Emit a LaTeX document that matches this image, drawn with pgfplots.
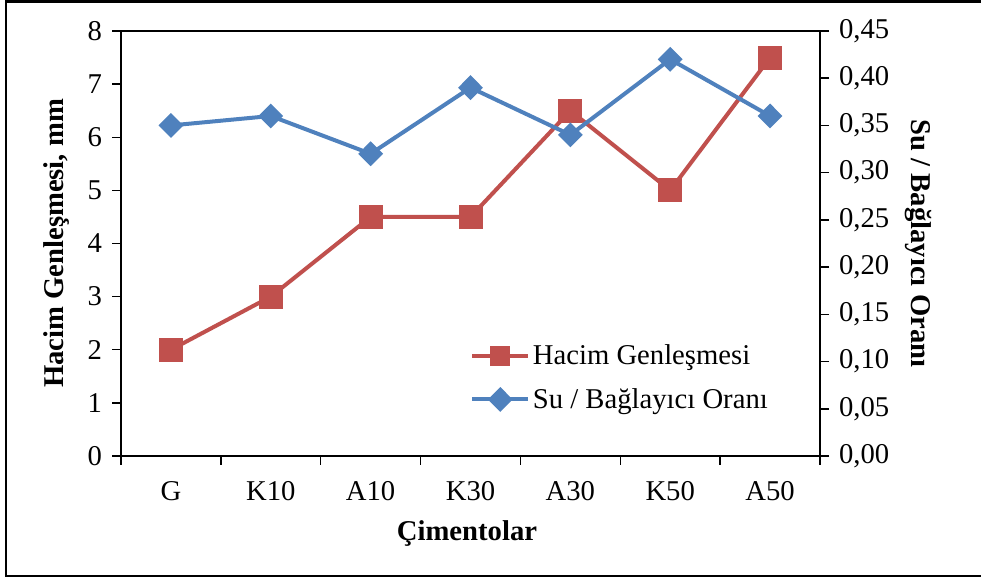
\documentclass[border=0pt]{standalone}
\usepackage{fontspec}
\setmainfont{Liberation Serif}
\usepackage{pgfplots}
\pgfplotsset{compat=1.18}
\definecolor{exred}{RGB}{192,80,77}
\definecolor{exblue}{RGB}{79,129,189}
\pgfplotsset{
  common/.style={
    at={(90.75pt,93.75pt)}, anchor=south west,
    width=524.25pt, height=318.75pt, scale only axis,
    xmin=-0.5, xmax=6.5,
    /pgf/number format/assume math mode=true,
    tick label style={font=\fontsize{21.5}{25}\selectfont},
    axis line style={line width=1.6pt,-},
    tick style={line width=1.1pt, black},
    tick align=outside, major tick length=6.75pt,
  }
}
\begin{document}
\begin{tikzpicture}
\useasboundingbox (0,0) rectangle (735.75pt,435.75pt);
\draw[line width=1.9pt] (736.5pt,434.6pt) -- (4.5pt,434.6pt) -- (4.5pt,3.75pt) -- (736.5pt,3.75pt);
\begin{axis}[common,
  ymin=0, ymax=8,
  axis x line*=bottom, axis y line*=left,
  xtick={-0.5,0.5,...,6.5},
  x tick label as interval,
  xticklabels={G,K10,A10,K30,A30,K50,A50},
  xticklabel style={yshift=-9pt},
  ytick={0,1,...,8},
  yticklabel style={xshift=-4pt},
  every axis y label/.style={at={(axis description cs:-0.0916,0.5)}, anchor=center, rotate=90, font=\bfseries\fontsize{21.5}{25}\selectfont},
  every axis x label/.style={at={(axis description cs:0.495,-0.182)}, anchor=center, font=\bfseries\fontsize{21.5}{25}\selectfont},
  ylabel={Hacim Genleşmesi, mm},
  xlabel={Çimentolar},
]
\draw[line width=0.8pt] (rel axis cs:0,1) -- (rel axis cs:1,1);
\addplot[exred, line width=3pt, mark=square*, mark size=7.5pt, mark options={solid}]
  coordinates {(0,2) (1,3) (2,4.5) (3,4.5) (4,6.5) (5,5) (6,7.5)};
\end{axis}
\begin{axis}[common,
  ymin=0, ymax=0.45,
  axis y line*=right, axis x line=none,
  ytick={0,0.05,0.1,0.15,0.2,0.25,0.3,0.35,0.4,0.45},
  yticklabel style={xshift=4pt, /pgf/number format/.cd, fixed, fixed zerofill, precision=2, use comma},
  every axis y label/.style={at={(axis description cs:1.141,0.5)}, anchor=center, rotate=-90, font=\bfseries\fontsize{21.5}{25}\selectfont},
  ylabel={Su / Bağlayıcı Oranı},
  legend style={at={(axis description cs:0.4993,0.1847)}, anchor=west, draw=none, fill=none,
    inner sep=0pt, row sep=12.5pt, font=\fontsize{21.5}{25}\selectfont,
    nodes={inner sep=2pt}},
  legend cell align=left,
  legend image code/.code={\draw[mark repeat=2,mark phase=2,#1] plot coordinates {(0pt,0pt) (21pt,0pt) (42pt,0pt)};},
]
\addlegendimage{exred, line width=3pt, mark=square*, mark size=6pt, mark options={solid}}
\addlegendentry{Hacim Genleşmesi}
\addplot[exblue, line width=3pt, mark=diamond*, mark size=7.2pt, mark options={solid, xscale=1.33}]
  coordinates {(0,0.35) (1,0.36) (2,0.32) (3,0.39) (4,0.34) (5,0.42) (6,0.36)};
\addlegendentry{Su / Bağlayıcı Oranı}
\end{axis}
\end{tikzpicture}
\end{document}
